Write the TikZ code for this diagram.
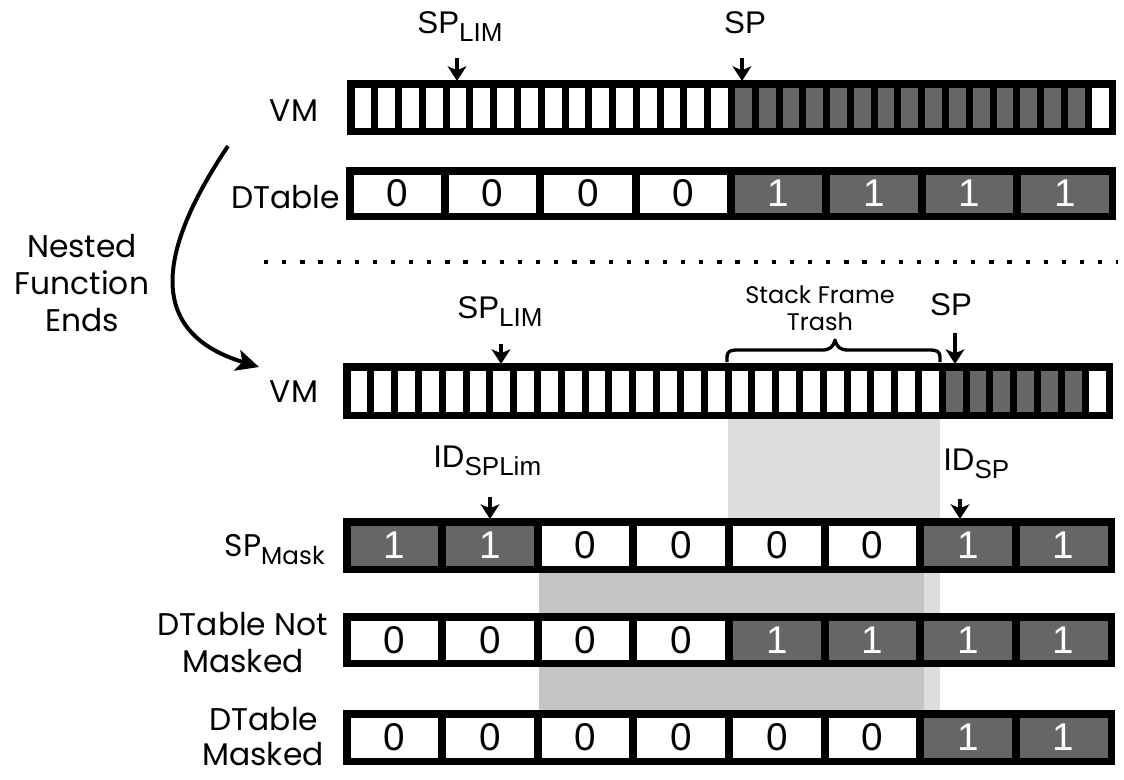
\documentclass[tikz,border=0pt]{standalone}
\usepackage{fontspec}
\setmainfont{Poppins}
\newfontfamily\arialf{Liberation Sans}
\usetikzlibrary{arrows.meta}
\definecolor{cellgray}{HTML}{666666}
\definecolor{shadelight}{HTML}{DDDDDD}
\definecolor{shademid}{HTML}{C4C4C4}
\newcommand\lblfont{\fontsize{23.5}{28}\selectfont}
\newcommand\subfont{\fontsize{18.5}{22}\selectfont}
\newcommand\spfont{\arialf\fontsize{23.5}{28}\selectfont}
\newcommand\spsub{\arialf\fontsize{19.5}{22}\selectfont}
\newcommand\digitfont{\arialf\fontsize{29}{32}\selectfont}
\newcommand\trashfont{\fontsize{18}{21}\selectfont}
% 8-cell bit row: name, x0, y0, x1, y1, digits
\newcommand\bitrow[6]{%
  \fill[black] (#2,#3) rectangle (#4,#5);
  \pgfmathsetmacro\bw{(#4-#2-15-7*8)/8}%
  \foreach \v [count=\i from 0] in {#6} {%
    \pgfmathsetmacro\cx{#2+7.5+\i*(\bw+8)}%
    \ifnum\v=1
      \fill[cellgray] (\cx,#3+7.5) rectangle ({\cx+\bw},#5-7.5);
      \node[bitone] (#1-\i) at ({\cx+\bw/2},{(#3+#5)/2}) {\v};
    \else
      \fill[white] (\cx,#3+7.5) rectangle ({\cx+\bw},#5-7.5);
      \node[bitzero] (#1-\i) at ({\cx+\bw/2},{(#3+#5)/2}) {\v};
    \fi
  }%
}
% 32-cell memory row: x0, y0, x1, y1, first gray, last gray
\newcommand\memrow[6]{%
  \fill[black] (#1,#2) rectangle (#3,#4);
  \pgfmathsetmacro\mw{(#3-#1-15-31*7)/32}%
  \foreach \i in {0,...,31} {%
    \pgfmathsetmacro\cx{#1+7.5+\i*(\mw+7)}%
    \ifnum\i<#5
      \fill[white] (\cx,#2+7.5) rectangle ({\cx+\mw},#4-7.5);
    \else\ifnum\i>#6
      \fill[white] (\cx,#2+7.5) rectangle ({\cx+\mw},#4-7.5);
    \else
      \fill[cellgray] (\cx,#2+7.5) rectangle ({\cx+\mw},#4-7.5);
    \fi\fi
  }%
}
\tikzset{
  bitone/.style={font=\digitfont, text=white, inner sep=0pt},
  bitzero/.style={font=\digitfont, text=black, inner sep=0pt},
  rowlabel/.style={font=\lblfont, inner sep=0pt},
  ptr/.style={line width=2.3pt, -{Stealth[length=11pt,width=14pt,inset=3pt]}},
}
\begin{document}
\begin{tikzpicture}[x=0.75pt,y=-0.75pt]
\useasboundingbox (0,0) rectangle (1124,779);
\fill[white] (0,0) rectangle (1124,779);

% shading
\fill[shadelight] (728,419) rectangle (940,710);
\fill[shademid] (539,573) rectangle (924,710);

% top part
\memrow{347}{80}{1116}{135}{16}{30}
\bitrow{dt1}{346}{167}{1116}{220}{0,0,0,0,1,1,1,1}

\node[rowlabel, anchor=base] (vm1lbl) at (294,121) {VM};
\node[rowlabel, anchor=base east] (dt1lbl) at (340,208) {DTable};

\node[anchor=base, inner sep=0pt] (splim1) at (460,33) {\spfont SP\raisebox{-6pt}{\spsub LIM}};
\node[anchor=base, inner sep=0pt] (sp1) at (745,33) {\spfont SP};
\coordinate (splim1s) at (457,58);
\coordinate (splim1e) at (457,81);
\coordinate (sp1s) at (742,58);
\coordinate (sp1e) at (742,81);
\draw[ptr] (splim1s) -- (splim1e);
\draw[ptr] (sp1s) -- (sp1e);

% dotted separator
\coordinate (dotl) at (264,262);
\coordinate (dotr) at (1118,262);
\draw[line width=3.2pt, dash pattern=on 3.2pt off 10.4pt] (dotl) -- (dotr);

% nested function arrow
\node[rowlabel, anchor=base] (nf1) at (82,257) {Nested};
\node[rowlabel, anchor=base] (nf2) at (82,294) {Function};
\node[rowlabel, anchor=base] (nf3) at (82,331) {Ends};
\coordinate (nfs) at (228,146);
\coordinate (nfe) at (259,367);
\draw[line width=3pt, -{Stealth[length=17pt,width=16pt,inset=4pt]}] (nfs) .. controls (165,240) and (138,330) .. (nfe);

% lower VM
\memrow{343}{363}{1113}{419}{25}{30}
\node[rowlabel, anchor=base] (vm2lbl) at (294,402) {VM};
\node[anchor=base, inner sep=0pt] (splim2) at (500,318) {\spfont SP\raisebox{-6pt}{\spsub LIM}};
\node[anchor=base, inner sep=0pt] (sp2) at (951,315) {\spfont SP};
\coordinate (splim2s) at (501,344);
\coordinate (splim2e) at (501,364);
\coordinate (sp2s) at (955,333);
\coordinate (sp2e) at (955,364);
\draw[ptr] (splim2s) -- (splim2e);
\draw[ptr] (sp2s) -- (sp2e);

% brace
\draw[line width=2.5pt, line join=round] (727,362) -- (727,358) .. controls (727,351) and (730,350) .. (738,350) -- (822,350) .. controls (830,350) and (833,347) .. (835,340) .. controls (837,347) and (840,350) .. (848,350) -- (929,350) .. controls (937,350) and (940,351) .. (940,358) -- (940,362);
\node[font=\trashfont, anchor=base, inner sep=0pt] (trash1) at (820,303) {Stack Frame};
\node[font=\trashfont, anchor=base, inner sep=0pt] (trash2) at (820,330) {Trash};

% ID labels
\node[anchor=base west, inner sep=0pt] (idsplim) at (433,467) {\spfont ID\raisebox{-6pt}{\spsub SPLim}};
\node[anchor=base west, inner sep=0pt] (idsp) at (943,470) {\spfont ID\raisebox{-6pt}{\spsub SP}};
\coordinate (idsplims) at (490,497);
\coordinate (idsplime) at (490,519);
\coordinate (idsps) at (960,499);
\coordinate (idspe) at (960,519);
\draw[ptr] (idsplims) -- (idsplime);
\draw[ptr] (idsps) -- (idspe);

% lower tables
\bitrow{mask}{343}{518}{1115}{573}{1,1,0,0,0,0,1,1}
\bitrow{notm}{343}{613}{1115}{667}{0,0,0,0,1,1,1,1}
\bitrow{msk}{343}{710}{1115}{765}{0,0,0,0,0,0,1,1}

\node[rowlabel, anchor=base east] (masklbl) at (325,556) {SP\raisebox{-6pt}{\subfont Mask}};
\node[rowlabel, anchor=base] (notm1) at (243,635) {DTable Not};
\node[rowlabel, anchor=base] (notm2) at (243,672) {Masked};
\node[rowlabel, anchor=base] (msk1) at (264,730) {DTable};
\node[rowlabel, anchor=base] (msk2) at (263,765) {Masked};
\end{tikzpicture}
\end{document}
